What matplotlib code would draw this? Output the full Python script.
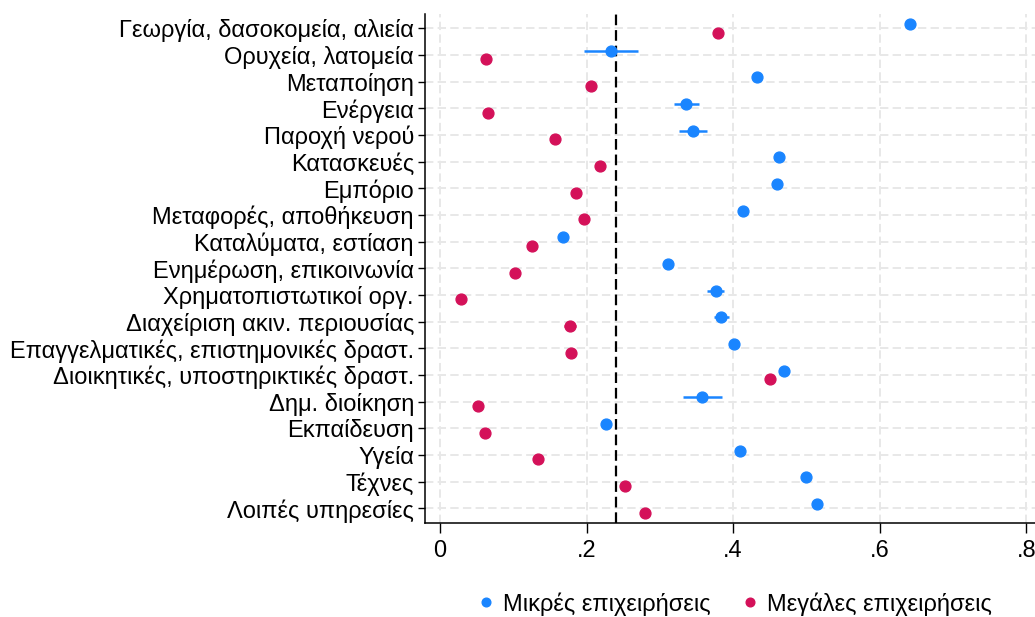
import numpy as np
import matplotlib.pyplot as plt

plt.rcParams['font.family'] = ['Liberation Sans', 'DejaVu Sans']

# sectors, top to bottom
sectors = ['Γεωργία, δασοκομεία, αλιεία', 'Ορυχεία, λατομεία', 'Μεταποίηση',
           'Ενέργεια', 'Παροχή νερού', 'Κατασκευές', 'Εμπόριο',
           'Μεταφορές, αποθήκευση', 'Καταλύματα, εστίαση',
           'Ενημέρωση, επικοινωνία', 'Χρηματοπιστωτικοί οργ.',
           'Διαχείριση ακιν. περιουσίας',
           'Επαγγελματικές, επιστημονικές δραστ.',
           'Διοικητικές, υποστηρικτικές δραστ.', 'Δημ. διοίκηση',
           'Εκπαίδευση', 'Υγεία', 'Τέχνες', 'Λοιπές υπηρεσίες']

small = [0.642, 0.233, 0.433, 0.336, 0.345, 0.462, 0.460, 0.413, 0.168, 0.311,
         0.376, 0.384, 0.401, 0.470, 0.358, 0.227, 0.409, 0.499, 0.515]
small_err = [0.006, 0.037, 0.002, 0.017, 0.019, 0.003, 0.002, 0.002, 0.002, 0.002,
             0.011, 0.010, 0.002, 0.003, 0.027, 0.002, 0.002, 0.002, 0.002]
large = [0.379, 0.063, 0.206, 0.065, 0.157, 0.218, 0.186, 0.196, 0.126, 0.103,
         0.029, 0.177, 0.179, 0.451, 0.052, 0.061, 0.134, 0.253, 0.280]
large_err = [0.002, 0.002, 0.002, 0.002, 0.002, 0.002, 0.002, 0.002, 0.002, 0.002,
             0.002, 0.008, 0.002, 0.003, 0.002, 0.002, 0.002, 0.002, 0.002]
ref_line = 0.240

xticks = [0, 0.2, 0.4, 0.6, 0.8]
xlabels = ['0', '.2', '.4', '.6', '.8']

blue = '#1a85ff'
red = '#d41159'
fs = 17

fig = plt.figure(figsize=(10.35, 6.17), dpi=100)
ax = fig.add_axes([425/1035, 1-523/617, 610/1035, (523-14)/617])

pos = np.arange(1, len(sectors)+1)
ax.errorbar(small, pos-0.16, xerr=small_err, fmt='o', color=blue, ms=7.8,
            elinewidth=1.8, capsize=0, label='Μικρές επιχειρήσεις', zorder=3)
ax.errorbar(large, pos+0.16, xerr=large_err, fmt='o', color=red, ms=7.8,
            elinewidth=1.8, capsize=0, label='Μεγάλες επιχειρήσεις', zorder=3)
ax.axvline(ref_line, color='black', ls=(0, (4.8, 2.2)), lw=1.6, zorder=2)

ax.set_xlim(-0.0205, 0.812)
ax.set_ylim(19.55, 0.46)
ax.set_yticks(pos)
ax.set_yticklabels(sectors, fontsize=fs)
ax.set_xticks(xticks)
ax.set_xticklabels(xlabels, fontsize=fs)
ax.tick_params(axis='y', length=5, width=1, pad=3)
ax.tick_params(axis='x', length=7, width=1, pad=5)

ax.grid(True, color='#e8e8e8', ls=(0, (4.3, 2.2)), lw=1.4, zorder=0)
ax.set_axisbelow(True)
for s in ['top', 'right']:
    ax.spines[s].set_visible(False)
for s in ['left', 'bottom']:
    ax.spines[s].set_linewidth(1.1)

handles, labels = ax.get_legend_handles_labels()
handles = [h[0] for h in handles]
fig.legend(handles, labels, loc='center', bbox_to_anchor=(733/1035, 1-604/617),
           ncol=2, frameon=False, fontsize=fs, handletextpad=0.2,
           columnspacing=1.2, markerscale=0.8, handlelength=1.0)

fig.savefig('out.png', dpi=100)
